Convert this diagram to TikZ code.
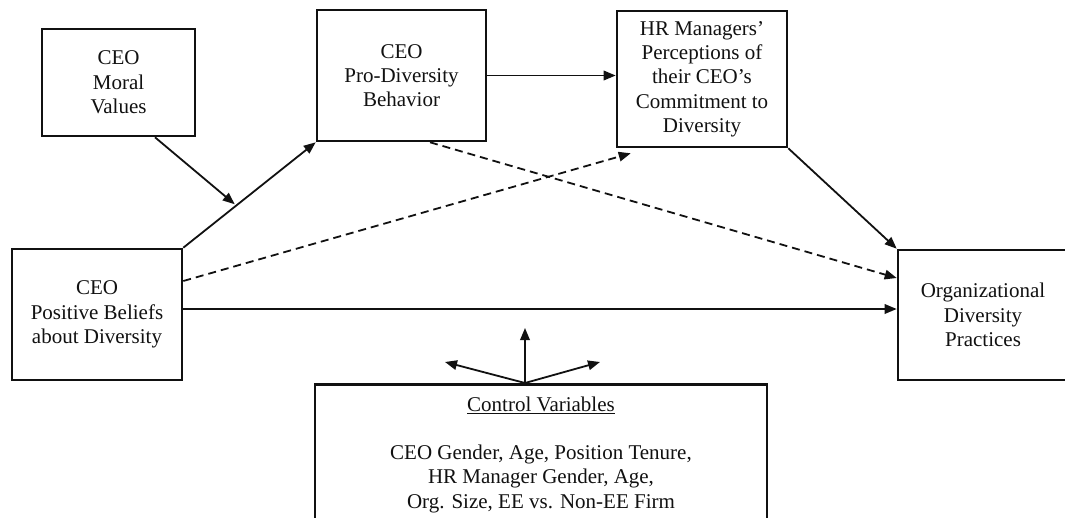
\documentclass[tikz,border=0pt]{standalone}
\usepackage{fontspec}
\setmainfont{Liberation Serif}
\usetikzlibrary{arrows.meta,calc,positioning}
\definecolor{ink}{HTML}{111111}
\newcommand{\figfont}{\fontsize{21}{24.3}\selectfont}
\tikzset{
 every node/.append style={font=\figfont,text=ink,align=center},
 varbox/.style={draw=ink,fill=white,line width=2.6pt,inner sep=4pt},
 path/.style={-{Triangle[length=12pt,width=9.5pt]},draw=ink,line width=1.8pt},
 nullpath/.style={path,dash pattern=on 8pt off 5pt},
}

\begin{document}
\begin{tikzpicture}[x=1pt,y=-1pt]
\useasboundingbox (0,0) rectangle (1065,517);

\node[varbox,minimum width=153pt,minimum height=107pt] (moral) at (118.5,82.5) {CEO\\Moral\\Values};
\node[varbox,minimum width=169pt,minimum height=131pt] (behavior) at (401.5,75.5) {CEO\\Pro-Diversity\\Behavior};
\node[varbox,minimum width=170pt,minimum height=136pt] (hrview) at (702,79) {HR Managers'\\Perceptions of\\their CEO's\\Commitment to\\Diversity};
\node[varbox,minimum width=170pt,minimum height=131pt] (beliefs) at (97,314.5) {CEO\\Positive Beliefs\\about Diversity};
\node[varbox,minimum width=170pt,minimum height=130pt] (practices) at (983,315) {Organizational\\Diversity\\Practices};
\node[varbox,anchor=north,inner ysep=13pt,minimum width=452pt,text depth=95pt] (controls) at (541,383) {\underline{Control Variables}\\[23.5pt]
  CEO Gender, Age, Position Tenure,\\
  HR Manager Gender, Age,\\
  Org. Size, EE vs. Non-EE Firm};

% moderated first path
\coordinate (mod) at ($(beliefs.north east)!0.4!(behavior.south west)$);
\draw[path] (beliefs.north east) -- (behavior.south west);
\draw[path,shorten >=2pt] ([xshift=36.5pt]moral.south) -- (mod);

\draw[path] (behavior.east) -- (behavior.east -| hrview.west);
\draw[path] (hrview.south east) -- (practices.north west);
\draw[path] ([yshift=5.5pt]beliefs.east) -- ([yshift=5.5pt]beliefs.east -| practices.west);

% non-hypothesized paths
\draw[nullpath] ([yshift=33.5pt]beliefs.east) -- ([xshift=15pt,yshift=-5pt]hrview.south west);
\draw[nullpath] ([xshift=28.5pt]behavior.south) -- ([yshift=37pt]practices.west);

% controls
\coordinate (ctrlbase) at ([xshift=-16pt]controls.north);
\coordinate (ctrlup) at (525,328);
\coordinate (ctrlleft) at (445,362);
\coordinate (ctrlright) at (600,362);
\draw[path] (ctrlbase) -- (ctrlup);
\draw[path] (ctrlbase) -- (ctrlleft);
\draw[path] (ctrlbase) -- (ctrlright);

\end{tikzpicture}
\end{document}
